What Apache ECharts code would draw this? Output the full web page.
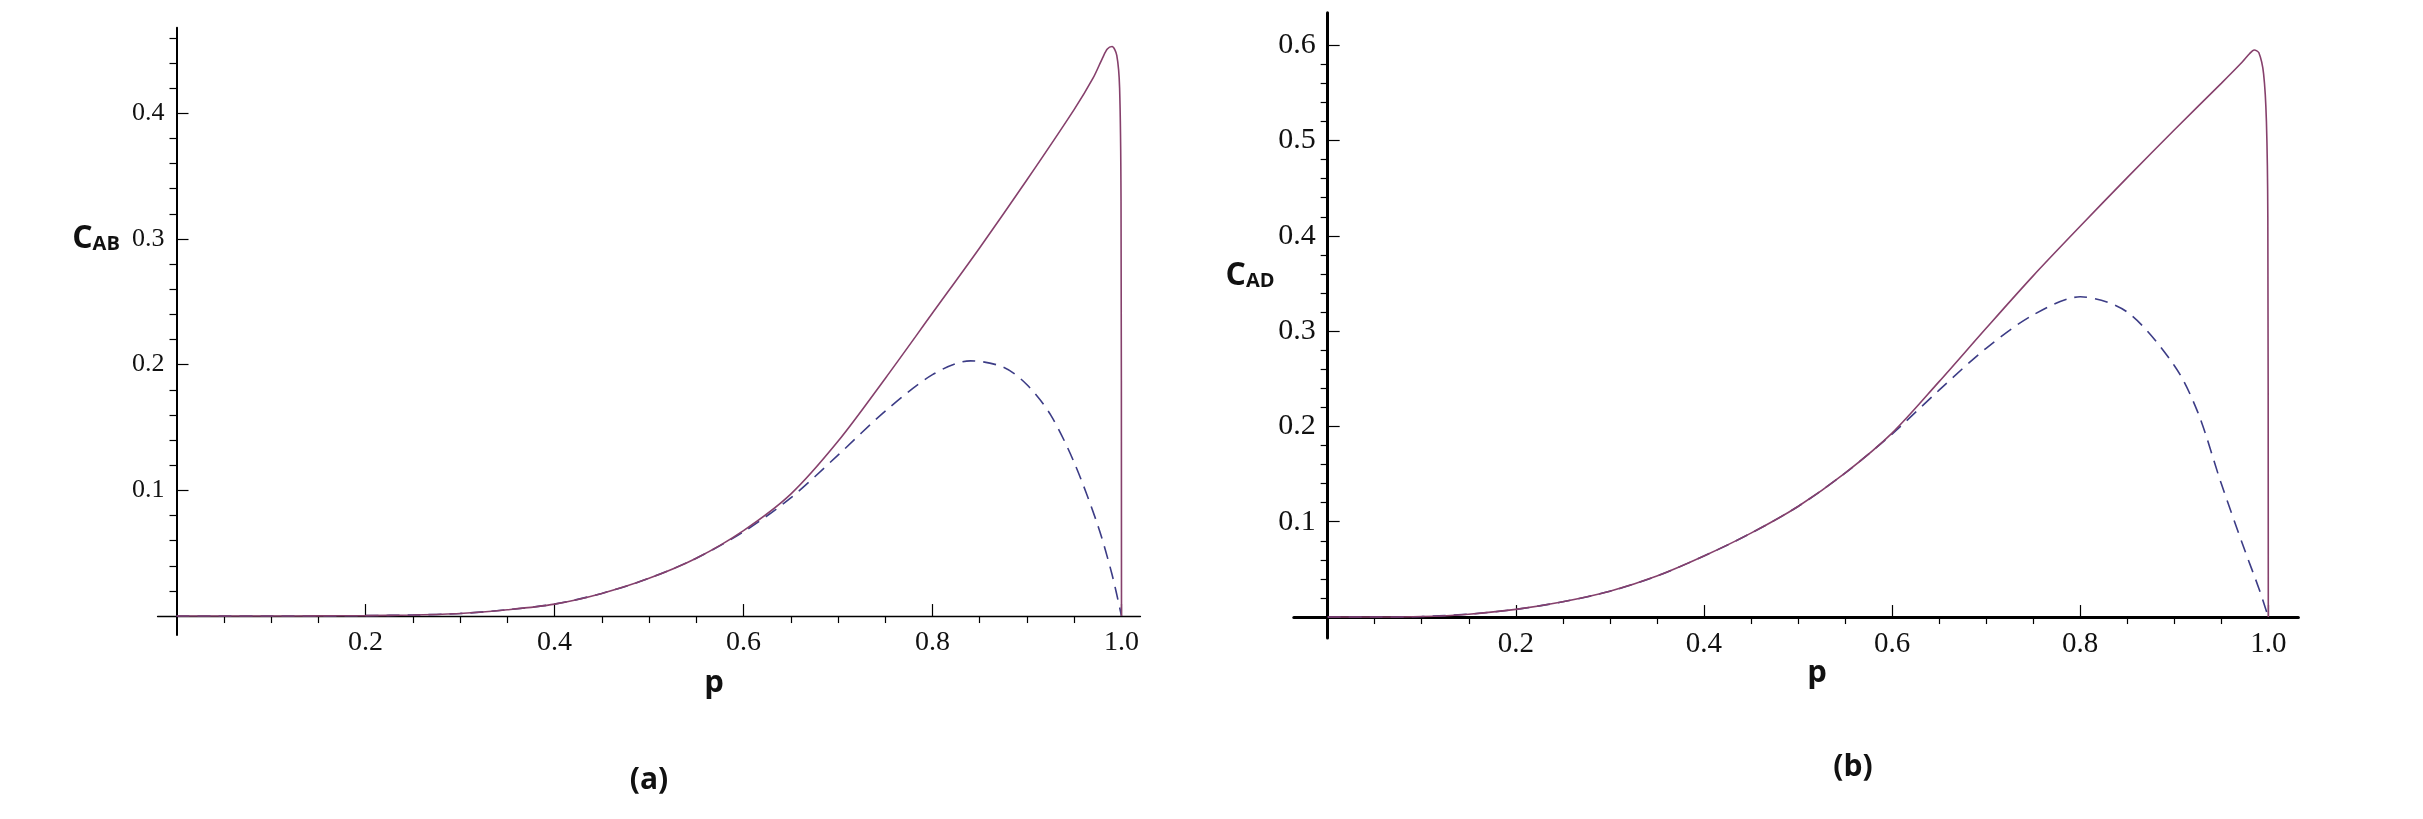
<!DOCTYPE html>
<html><head><meta charset="utf-8">
<script src="https://cdn.jsdelivr.net/npm/echarts@6/dist/echarts.min.js"></script>
<style>html,body{margin:0;padding:0;background:#fff}#c{width:2423px;height:819px}</style>
</head><body><div id="c"></div>
<script>
// ---------- Panel (a): C_AB vs p ----------
const pSolidA  = [0, 0.05, 0.1, 0.15, 0.2, 0.25, 0.3, 0.35, 0.4, 0.45, 0.5, 0.55, 0.6, 0.65, 0.7, 0.75, 0.8, 0.85, 0.9, 0.95, 0.97, 0.98, 0.985, 0.99, 0.995, 0.998, 0.9995, 1.0];
const solidA   = [0, 0, 0, 0.0001, 0.0003, 0.0008, 0.002, 0.005, 0.0095, 0.018, 0.03, 0.046, 0.068, 0.097, 0.139, 0.189, 0.241, 0.293, 0.347, 0.403, 0.428, 0.444, 0.451, 0.453, 0.446, 0.42, 0.33, 0];
const pDashA   = [0, 0.05, 0.1, 0.15, 0.2, 0.25, 0.3, 0.35, 0.4, 0.45, 0.5, 0.55, 0.6, 0.65, 0.7, 0.75, 0.8, 0.84, 0.875, 0.9, 0.925, 0.95, 0.975, 0.99, 1.0];
const dashedA  = [0, 0, 0, 0.0001, 0.0003, 0.0008, 0.002, 0.005, 0.0095, 0.018, 0.03, 0.046, 0.067, 0.094, 0.128, 0.163, 0.192, 0.203, 0.198, 0.184, 0.16, 0.122, 0.072, 0.033, 0];

// ---------- Panel (b): C_AD vs p ----------
const pSolidB  = [0, 0.05, 0.1, 0.15, 0.2, 0.25, 0.3, 0.35, 0.4, 0.45, 0.5, 0.55, 0.6, 0.65, 0.7, 0.75, 0.8, 0.85, 0.9, 0.95, 0.97, 0.98, 0.985, 0.99, 0.995, 0.998, 0.9995, 1.0];
const solidB   = [0, 0, 0.0005, 0.003, 0.008, 0.016, 0.027, 0.043, 0.064, 0.088, 0.116, 0.151, 0.193, 0.247, 0.303, 0.358, 0.41, 0.461, 0.511, 0.56, 0.58, 0.591, 0.595, 0.592, 0.57, 0.52, 0.42, 0];
const pDashB   = [0, 0.05, 0.1, 0.15, 0.2, 0.25, 0.3, 0.35, 0.4, 0.45, 0.5, 0.55, 0.6, 0.65, 0.7, 0.75, 0.8, 0.85, 0.9, 0.925, 0.95, 0.975, 0.99, 1.0];
const dashedB  = [0, 0, 0.0005, 0.003, 0.008, 0.016, 0.027, 0.043, 0.064, 0.088, 0.116, 0.151, 0.192, 0.238, 0.282, 0.317, 0.336, 0.32, 0.264, 0.215, 0.14, 0.07, 0.03, 0];

// ---------- Tick values ----------
const xMajorTicks  = [0.2, 0.4, 0.6, 0.8, 1.0];
const xMinorTicks  = [0.05, 0.1, 0.15, 0.25, 0.3, 0.35, 0.45, 0.5, 0.55, 0.65, 0.7, 0.75, 0.85, 0.9, 0.95];
const yMajorTicksA = [0.1, 0.2, 0.3, 0.4];
const yMinorTicksA = [0.02, 0.04, 0.06, 0.08, 0.12, 0.14, 0.16, 0.18, 0.22, 0.24, 0.26, 0.28, 0.32, 0.34, 0.36, 0.38, 0.42, 0.44, 0.46];
const yMajorTicksB = [0.1, 0.2, 0.3, 0.4, 0.5, 0.6];
const yMinorTicksB = [0.02, 0.04, 0.06, 0.08, 0.12, 0.14, 0.16, 0.18, 0.22, 0.24, 0.26, 0.28, 0.32, 0.34, 0.36, 0.38, 0.42, 0.44, 0.46, 0.48, 0.52, 0.54, 0.56, 0.58];

// ---------- Texts ----------
const yNameA = ['C', 'AB'];
const yNameB = ['C', 'AD'];
const xName = 'p';
const panelTags = ['(a)', '(b)'];

const SOLID = '#86406c';
const DASH = '#3c3c86';
const FONT_SERIF = '"Liberation Serif", "Times New Roman", serif';
const FONT_SANS = '"Open Sans", "Liberation Sans", sans-serif';

const zip = (xs, ys) => xs.map((x, i) => [x, ys[i]]);

function makeAxes(gridIndex, min, max, major, minor, onZeroIdx, lineW, labelSize, labelMargin) {
  const fmt = v => v.toFixed(1);
  const common = { type: 'value', gridIndex, min, max, splitLine: { show: false }, scale: false };
  const majorAxis = Object.assign({}, common, {
    axisLine: { show: true, onZero: true, onZeroAxisIndex: onZeroIdx, lineStyle: { color: '#000', width: lineW } },
    axisTick: { show: true, inside: true, length: 12, customValues: major, lineStyle: { color: '#000', width: 1.2 } },
    axisLabel: { show: true, customValues: major, formatter: fmt, margin: labelMargin,
      fontFamily: FONT_SERIF, fontSize: labelSize, color: '#111' },
    minorTick: { show: false }
  });
  const minorAxis = Object.assign({}, common, {
    axisLine: { show: false, onZero: true, onZeroAxisIndex: onZeroIdx + 1 },
    axisTick: { show: true, inside: true, length: 7, customValues: minor, lineStyle: { color: '#000', width: 1.2 } },
    axisLabel: { show: false },
    minorTick: { show: false }
  });
  return [majorAxis, minorAxis];
}

const chart = echarts.init(document.getElementById('c'), null, { renderer: 'canvas' });

const grids = [
  { left: 157.6, width: 982.8, top: 27.7, height: 607.2 },
  { left: 1293.8, width: 1004.6, top: 12.8, height: 625.2 }
];

const xAxes = [].concat(
  makeAxes(0, -0.02, 1.02, xMajorTicks, xMinorTicks, 0, 1.4, 28, -6),
  makeAxes(1, -0.036, 1.032, xMajorTicks, xMinorTicks, 2, 3, 29, -8)
);
const yAxes = [].concat(
  makeAxes(0, -0.015, 0.468, yMajorTicksA, yMinorTicksA, 0, 2, 26, -7),
  makeAxes(1, -0.022, 0.634, yMajorTicksB, yMinorTicksB, 2, 3, 30, -22)
);

function lineSeries(xi, yi, data, color, dashed) {
  return {
    type: 'line', xAxisIndex: xi, yAxisIndex: yi, data,
    showSymbol: false, symbol: 'none', smooth: 0.3,
    clip: false, silent: true, z: dashed ? 3 : 4,
    lineStyle: { color, width: 1.6, type: dashed ? [13, 8] : 'solid' }
  };
}

const textEl = (x, y, rich, main, sub, size) => ({
  type: 'text', x, y,
  style: {
    text: sub ? '{c|' + main + '}{s|' + sub + '}' : main,
    font: 'bold ' + size + 'px ' + FONT_SANS,
    fill: '#111', textAlign: 'center', textVerticalAlign: 'top',
    rich: rich ? {
      c: { fontSize: size, fontWeight: 'bold', fontFamily: FONT_SANS, fill: '#111', verticalAlign: 'bottom', lineHeight: size * 1.2 },
      s: { fontSize: Math.round(size * 0.62), fontWeight: 'bold', fontFamily: FONT_SANS, fill: '#111', verticalAlign: 'bottom', lineHeight: size * 1.2 }
    } : undefined
  }
});

chart.setOption({
  backgroundColor: '#fff',
  animation: false,
  grid: grids,
  xAxis: xAxes,
  yAxis: yAxes,
  series: [
    lineSeries(0, 0, zip(pDashA, dashedA), DASH, true),
    lineSeries(0, 0, zip(pSolidA, solidA), SOLID, false),
    lineSeries(2, 2, zip(pDashB, dashedB), DASH, true),
    lineSeries(2, 2, zip(pSolidB, solidB), SOLID, false)
  ],
  graphic: [
    textEl(96, 216, true, yNameA[0], yNameA[1], 32),
    textEl(1250, 253, true, yNameB[0], yNameB[1], 32),
    textEl(714, 668, false, xName, null, 31),
    textEl(1817, 658, false, xName, null, 31),
    textEl(649, 765, false, panelTags[0], null, 30),
    textEl(1853, 752, false, panelTags[1], null, 30)
  ]
});
</script></body></html>
